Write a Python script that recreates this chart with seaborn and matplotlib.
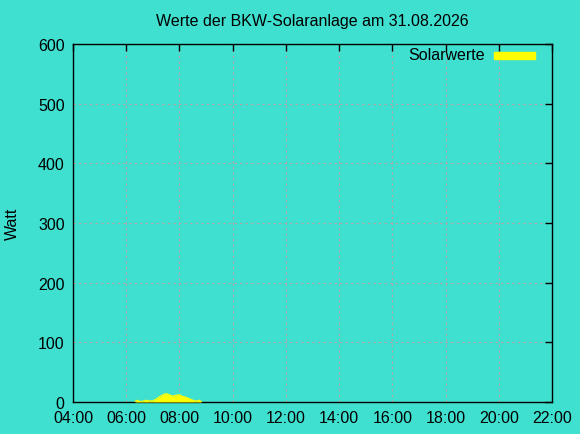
import pandas as pd
import numpy as np
import matplotlib.pyplot as plt
import matplotlib.dates as mdates
import seaborn as sns

# Messwerte (Uhrzeit, Watt)
zeiten = ["06:20", "06:25", "06:30", "06:35", "06:40", "06:45", "06:50", "06:55",
          "07:00", "07:05", "07:10", "07:15", "07:20", "07:25", "07:30", "07:35",
          "07:40", "07:45", "07:50", "07:55", "08:00", "08:05", "08:10", "08:15",
          "08:20", "08:25", "08:30", "08:35", "08:40", "08:45", "08:50"]
watt = [1, 3, 1, 1, 2, 3, 2, 2,
        2, 4, 6, 9, 11, 13, 14, 13,
        11, 10, 11, 12, 12, 10, 9, 8,
        6, 5, 3, 2, 2, 3, 0]

bg = "#40e0d0"
sns.set_theme(style="white")
plt.rcParams['font.family'] = ['Liberation Sans', 'DejaVu Sans']

df = pd.DataFrame({
    "Zeit": pd.to_datetime("2026-08-31 " + pd.Series(zeiten)),
    "Watt": watt,
})

fig = plt.figure(figsize=(5.8, 4.35), dpi=100, facecolor=bg)
ax = fig.add_axes([73 / 580, 1 - 403 / 435, 479 / 580, 358 / 435])
ax.set_facecolor(bg)

ax.fill_between(df["Zeit"], 0, df["Watt"], color="yellow", linewidth=0, zorder=3)
sns.lineplot(data=df, x="Zeit", y="Watt", ax=ax, color="yellow", linewidth=0.8, zorder=3)

ax.set_xlim(pd.Timestamp("2026-08-31 04:00"), pd.Timestamp("2026-08-31 22:00"))
ax.set_ylim(0, 600)
ax.xaxis.set_major_locator(mdates.HourLocator(byhour=range(4, 23, 2)))
ax.xaxis.set_major_formatter(mdates.DateFormatter("%H:%M"))
ax.set_yticks(range(0, 601, 100))

ax.grid(True, color="#b8a0a8", linestyle=(0, (2, 3)), linewidth=0.8)
for s in ax.spines.values():
    s.set_color("black")
    s.set_linewidth(1)
ax.tick_params(direction="in", length=5, width=1, top=True, right=True,
               labelsize=11.5, colors="black", pad=6)

ax.set_xlabel("")
ax.set_ylabel("")
ax.set_title("Werte der BKW-Solaranlage am 31.08.2026", fontsize=11.5, pad=14, color="black")
fig.text(12 / 580, 1 - 224 / 435, "Watt", rotation=90, ha="center", va="center",
         fontsize=11.5, color="black")

# Legende im gnuplot-Stil
fig.text(485 / 580, 1 - 56 / 435, "Solarwerte", ha="right", va="center",
         fontsize=11.5, color="black")
fig.patches.append(plt.Rectangle((494 / 580, 1 - 60 / 435), 41 / 580, 7 / 435,
                                 transform=fig.transFigure, color="yellow", figure=fig))

fig.savefig("out.png", dpi=100, facecolor=bg)
